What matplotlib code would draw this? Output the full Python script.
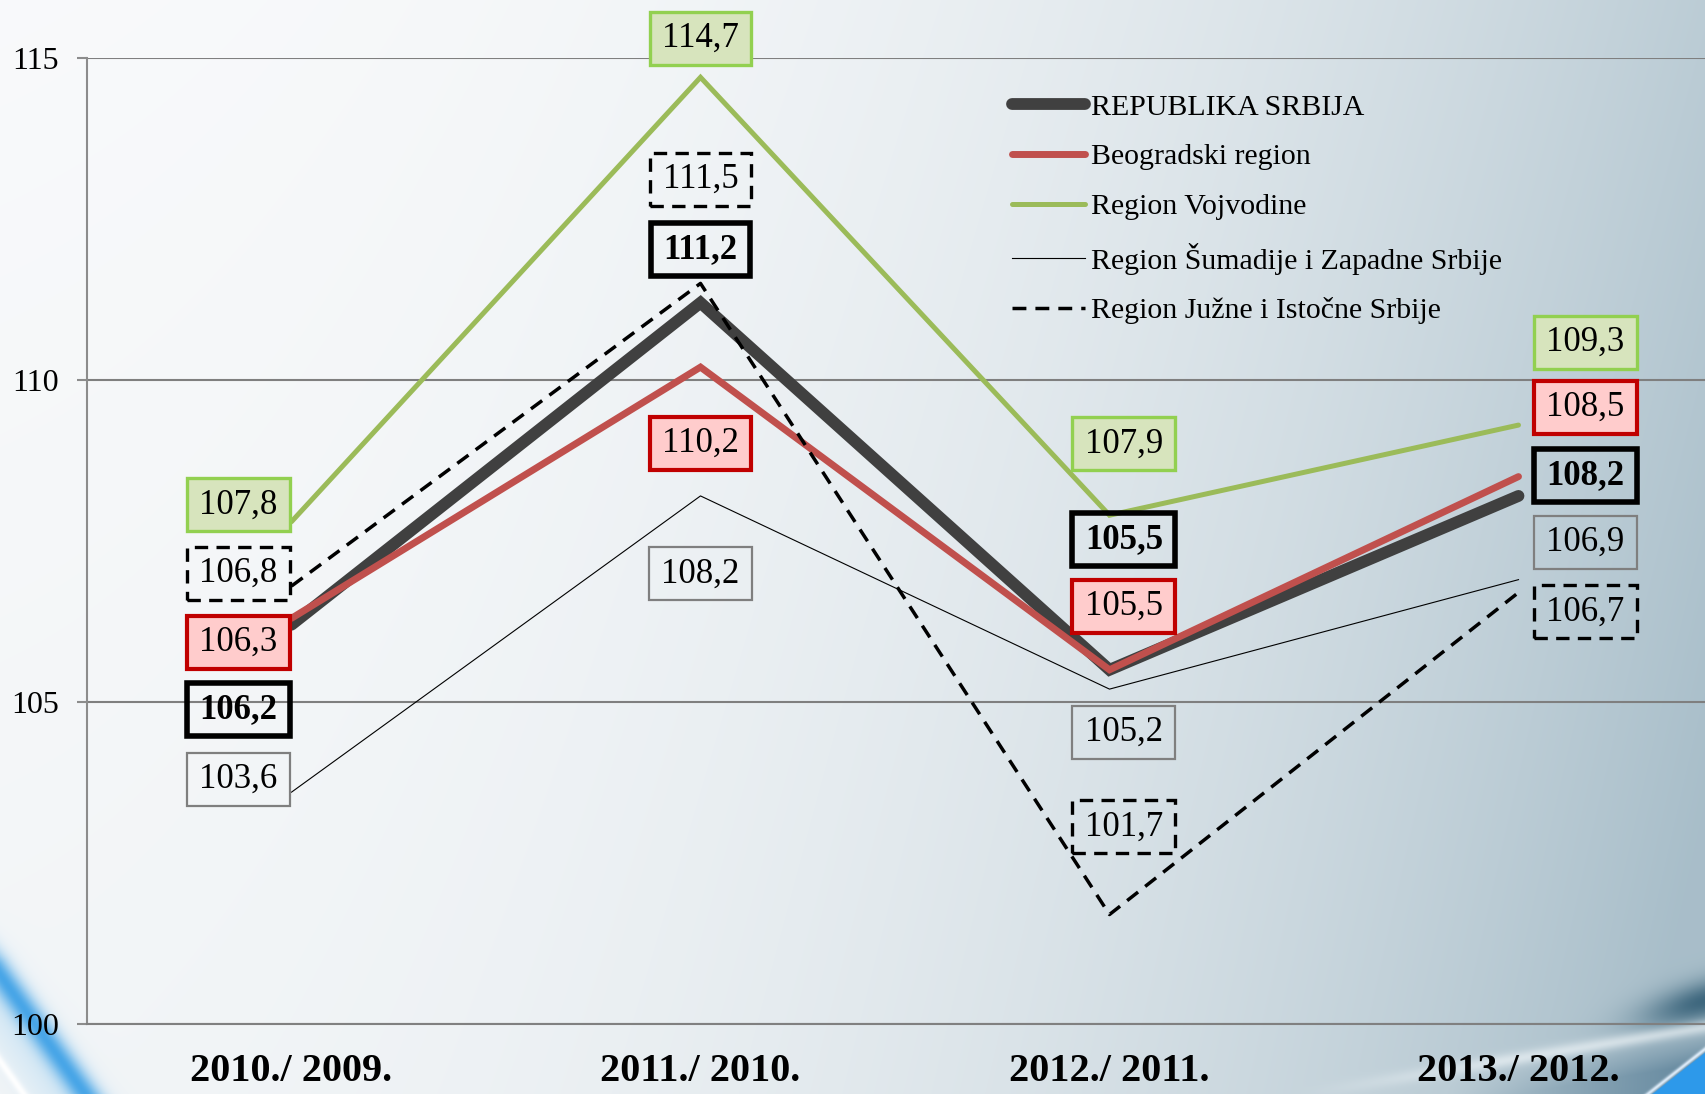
import numpy as np
import matplotlib
matplotlib.use("Agg")
import matplotlib.pyplot as plt

# ---------------- data ----------------
categories = ["2010./ 2009.", "2011./ 2010.", "2012./ 2011.", "2013./ 2012."]
series_names = ["REPUBLIKA SRBIJA", "Beogradski region", "Region Vojvodine",
                "Region Šumadije i Zapadne Srbije", "Region Južne i Istočne Srbije"]
srbija = [106.2, 111.2, 105.5, 108.2]
beograd = [106.3, 110.2, 105.5, 108.5]
vojvodina = [107.8, 114.7, 107.9, 109.3]
sumadija = [103.6, 108.2, 105.2, 106.9]
juzne = [106.8, 111.5, 101.7, 106.7]
yticks = [100, 105, 110, 115]

# ---------------- layout (label placement) ----------------
lab_dx = [-0.13, 0.0, 0.035, 0.163]
lab_y = {
    "srbija":    [104.88, 112.02, 107.52, 108.51],
    "beograd":   [105.93, 109.02, 106.49, 109.57],
    "vojvodina": [108.06, 115.30, 109.01, 110.59],
    "sumadija":  [103.80, 106.99, 104.53, 107.48],
    "juzne":     [107.00, 113.12, 103.06, 106.40],
}

W, H = 1706, 1094
fig = plt.figure(figsize=(W / 100, H / 100), dpi=100)

# ---------------- background ----------------
bg = fig.add_axes([0, 0, 1, 1], zorder=-10)
yy, xx = np.mgrid[0:H, 0:W].astype(float)
u = xx / W
v = yy / H
t = np.clip(0.70 * u ** 2.6 + 0.25 * u ** 2 * v + 0.08 * v + 0.06 * u, 0, 1)
c0 = np.array([0.975, 0.98, 0.985])
c1 = np.array([0.66, 0.745, 0.79])
img = c0 + t[..., None] * (c1 - c0)

def blend(img, alpha, color):
    a = np.clip(alpha, 0, 1)[..., None]
    return img * (1 - a) + np.array(color) * a

# bottom-left blue swoosh
s = xx * 0.814 - (yy - 975) * 0.581
p = xx * 0.581 + (yy - 975) * 0.814
fade = np.clip((p + 70) / 60, 0, 1)
img = blend(img, 0.45 * np.exp(-((s + 18) / 32) ** 2) * fade, (0.72, 0.86, 0.95))
img = blend(img, 0.9 * np.exp(-(s / 13) ** 2) * fade, (0.22, 0.62, 0.9))
img = blend(img, 0.95 * np.exp(-((s + 50) / 4) ** 2) * fade, (1, 1, 1))

# bottom-right shading and blue corner
gx = (xx - 1706) * 0.96 + (yy - 1000) * (-0.28)
gy = (xx - 1706) * 0.28 + (yy - 1000) * 0.96
img = blend(img, 0.8 * np.exp(-(gx / 65) ** 2 - (gy / 20) ** 2), (0.14, 0.32, 0.42))
d2 = ((yy - 1094) + (xx - 1300) * 0.165) / 1.013
ramp = np.clip((xx - 1300) / 200, 0, 1)
img = blend(img, 0.6 * np.exp(-(d2 / 7) ** 2) * ramp, (0.95, 0.97, 0.98))
img = blend(img, 0.65 * np.clip(d2 / 35, 0, 1) * np.clip((xx - 1450) / 250, 0, 1), (0.25, 0.42, 0.53))
g = ((yy - 1094) + (xx - 1650) * 0.786) / 1.272
img = blend(img, 0.9 * np.exp(-((g + 2) / 2.0) ** 2), (0.9, 0.95, 1.0))
img = blend(img, np.clip(g / 1.5, 0, 1), (0.18, 0.6, 0.92))

bg.imshow(img, aspect="auto", extent=[0, 1, 0, 1], interpolation="bilinear")
bg.set_axis_off()

# ---------------- main axes ----------------
left, right_px, top_px, bottom_px = 87, 1723, 58, 1024
ax = fig.add_axes([left / W, 1 - bottom_px / H, (right_px - left) / W,
                   (bottom_px - top_px) / H])
ax.set_facecolor("none")
x = np.arange(len(categories))
ax.set_xlim(-0.5, len(categories) - 0.5)
ax.set_ylim(100, 115)

serif = "Liberation Serif"
styles = [
    dict(color="#404040", lw=8.5, solid_capstyle="round", solid_joinstyle="miter"),
    dict(color="#c0504d", lw=5.0, solid_capstyle="round", solid_joinstyle="miter"),
    dict(color="#9bbb59", lw=3.6, solid_capstyle="round", solid_joinstyle="miter"),
    dict(color="black", lw=0.8),
    dict(color="black", lw=2.5, linestyle=(0, (4.0, 2.6))),
]
all_series = [srbija, beograd, vojvodina, sumadija, juzne]
for vals, name, st in zip(all_series, series_names, styles):
    ax.plot(x, vals, label=name, zorder=3, **st)

# grid and axes styling
ax.set_yticks(yticks)
ax.set_yticklabels([str(v) for v in yticks], fontfamily=serif, fontsize=23)
ax.yaxis.grid(True, color="#7f7f7f", lw=1.5)
ax.set_axisbelow(True)
ax.tick_params(axis="y", direction="out", length=7, width=1.5, color="#8c8c8c", pad=13)
ax.set_xticks(x)
ax.set_xticklabels(categories, fontfamily=serif, fontsize=29, fontweight="bold")
ax.tick_params(axis="x", length=0, pad=21)
for sp in ["top", "right"]:
    ax.spines[sp].set_visible(False)
ax.spines["left"].set_color("#8c8c8c")
ax.spines["left"].set_linewidth(1.5)
ax.spines["bottom"].set_color("#808080")
ax.spines["bottom"].set_linewidth(1.5)

# data labels
box_styles = {
    "srbija": dict(fc="none", ec="black", lw=4.0),
    "beograd": dict(fc="#ffcccc", ec="#c00000", lw=3.0),
    "vojvodina": dict(fc="#d7e4bd", ec="#92d050", lw=2.4),
    "sumadija": dict(fc="none", ec="#7f7f7f", lw=1.6),
    "juzne": dict(fc="none", ec="black", lw=2.4, linestyle=(0, (4, 2.5))),
}
keys = ["srbija", "beograd", "vojvodina", "sumadija", "juzne"]
for key, vals in zip(keys, all_series):
    for i, val in enumerate(vals):
        txt = f"{val:.1f}".replace(".", ",")
        bb = dict(boxstyle="square,pad=0.36", mutation_aspect=0.8, **box_styles[key])
        ax.text(x[i] + lab_dx[i], lab_y[key][i], txt, ha="center", va="center",
                fontfamily=serif, fontsize=25,
                fontweight="bold" if key == "srbija" else "normal",
                bbox=bb, zorder=5, clip_on=False)

# legend
leg = ax.legend(loc="upper left", bbox_to_anchor=(1012 / W, 1 - 94 / H),
                bbox_transform=fig.transFigure, frameon=False,
                prop={"family": serif, "size": 21.5}, handlelength=2.45,
                handletextpad=0.2, labelspacing=0.76, borderpad=0, borderaxespad=0)

fig.savefig("out.png", dpi=100)
